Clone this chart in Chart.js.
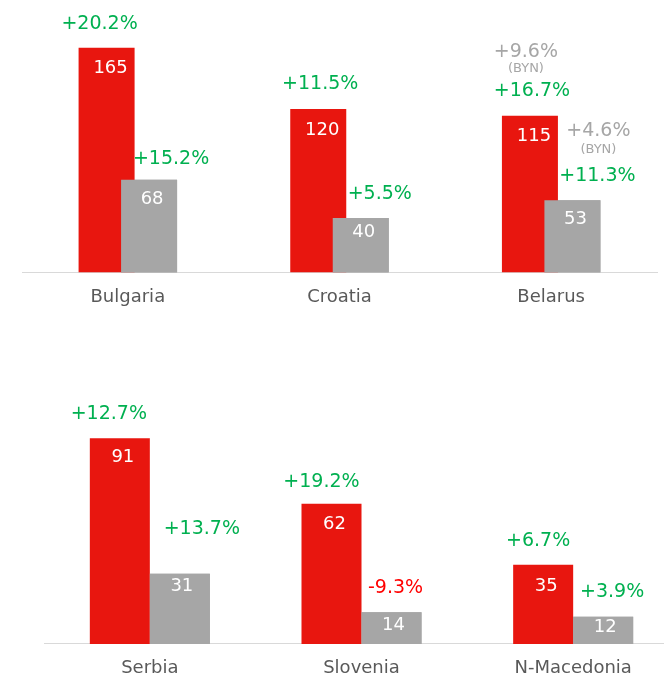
<!DOCTYPE html>
<html>
<head>
<meta charset="utf-8">
<script src="https://cdn.jsdelivr.net/npm/chart.js@4.4.1/dist/chart.umd.min.js"></script>
<style>
html, body { margin: 0; padding: 0; background: #fff; width: 664px; height: 678px; overflow: hidden; position: relative; }
#top_chart { position: absolute; left: 0; top: 0; }
#bottom_chart { position: absolute; left: 22px; top: 380px; }
</style>
</head>
<body>
<canvas id="top_chart" width="664" height="324"></canvas>
<canvas id="bottom_chart" width="664" height="315"></canvas>
<script>
var top_labels = ['Bulgaria', 'Croatia', 'Belarus'];
var top_red = [165, 120, 115];
var top_gray = [68, 40, 53];
var top_red_change = ['+20.2%', '+11.5%', '+16.7%'];
var top_gray_change = ['+15.2%', '+5.5%', '+11.3%'];
var top_red_byn = [null, null, '+9.6%'];
var top_gray_byn = [null, null, '+4.6%'];

var bottom_labels = ['Serbia', 'Slovenia', 'N-Macedonia'];
var bottom_red = [91, 62, 35];
var bottom_gray = [31, 14, 12];
var bottom_red_change = ['+12.7%', '+19.2%', '+6.7%'];
var bottom_gray_change = ['+13.7%', '-9.3%', '+3.9%'];
var bottom_red_byn = [null, null, null];
var bottom_gray_byn = [null, null, null];

var FONT = '"DejaVu Sans", Verdana, sans-serif';

// draws value inside each bar and the change label above it
var barLabels = {
  id: 'barLabels',
  afterDatasetsDraw: function(chart, args, opts) {
    var ctx = chart.ctx;
    // gray bar sits in front of the red one
    chart.getDatasetMeta(1).controller.draw();
    ctx.save();
    ctx.textAlign = 'center';
    ctx.textBaseline = 'middle';
    for (var d = 0; d < 2; d++) {
      var meta = chart.getDatasetMeta(d);
      var set = opts.sets[d];
      for (var i = 0; i < meta.data.length; i++) {
        var bar = meta.data[i];
        ctx.font = '18px ' + FONT;
        ctx.fillStyle = '#ffffff';
        ctx.fillText(chart.data.datasets[d].data[i], bar.x + set.valueDx, bar.y + set.valueDy[i]);

        var txt = set.change[i];
        var lx = bar.x + set.shift[i][0];
        var ly = bar.y + set.shift[i][1];
        ctx.font = '19px ' + FONT;
        ctx.fillStyle = txt.charAt(0) == '-' ? '#ff0000' : '#00b050';
        ctx.fillText(txt, lx, ly);

        if (set.byn[i]) {
          ctx.fillStyle = '#a6a6a6';
          ctx.font = '19px ' + FONT;
          ctx.fillText(set.byn[i], lx + set.bynShift[0], ly + set.bynShift[1]);
          ctx.font = '13px ' + FONT;
          ctx.fillText('(BYN)', lx + set.bynShift[0], ly + set.bynShift[2]);
        }
      }
    }
    ctx.restore();
  }
};

function make_chart(id, labels, red, gray, opts)
{
  var ctx = document.getElementById(id).getContext('2d');
  return new Chart(ctx, {
    type: 'bar',
    data: {
      labels: labels,
      datasets: [
        { data: red, backgroundColor: '#e8160f', categoryPercentage: opts.cat, barPercentage: opts.bar },
        { data: gray, backgroundColor: '#a6a6a6', categoryPercentage: opts.cat, barPercentage: opts.bar }
      ]
    },
    options: {
      responsive: false,
      animation: false,
      events: [],
      layout: { padding: { left: 22, right: 7, top: opts.top, bottom: opts.bottom } },
      plugins: {
        legend: { display: false },
        tooltip: { enabled: false },
        barLabels: { sets: opts.sets }
      },
      scales: {
        x: {
          grid: { display: false, drawTicks: false },
          border: { display: true, color: '#d9d9d9', width: 1 },
          ticks: { color: '#595959', font: { family: FONT, size: 18 }, padding: 14 }
        },
        y: { display: false, min: 0, max: opts.max }
      }
    },
    plugins: [barLabels]
  });
}

make_chart('top_chart', top_labels, top_red, top_gray, {
  cat: 0.4015, bar: 1.318, top: 0, bottom: 2, max: 200,
  sets: [
    { change: top_red_change, byn: top_red_byn, valueDx: 4, valueDy: [21, 21, 21],
      shift: [[-7, -24], [2, -25], [2, -25]], bynShift: [-6, -39, -22] },
    { change: top_gray_change, byn: top_gray_byn, valueDx: 3, valueDy: [20, 14, 19],
      shift: [[22, -21], [19, -24], [25, -24]], bynShift: [1, -45, -27] }
  ]
});

make_chart('bottom_chart', bottom_labels, bottom_red, bottom_gray, {
  cat: 0.567, bar: 1.0, top: 38, bottom: 1.5, max: 100,
  sets: [
    { change: bottom_red_change, byn: bottom_red_byn, valueDx: 3, valueDy: [19, 20, 21],
      shift: [[-11, -24], [-10, -22], [-5, -24]], bynShift: [0, 0, 0] },
    { change: bottom_gray_change, byn: bottom_gray_byn, valueDx: 2, valueDy: [12, 13, 11],
      shift: [[22, -45], [4, -24], [9, -25]], bynShift: [0, 0, 0] }
  ]
});
</script>
</body>
</html>
